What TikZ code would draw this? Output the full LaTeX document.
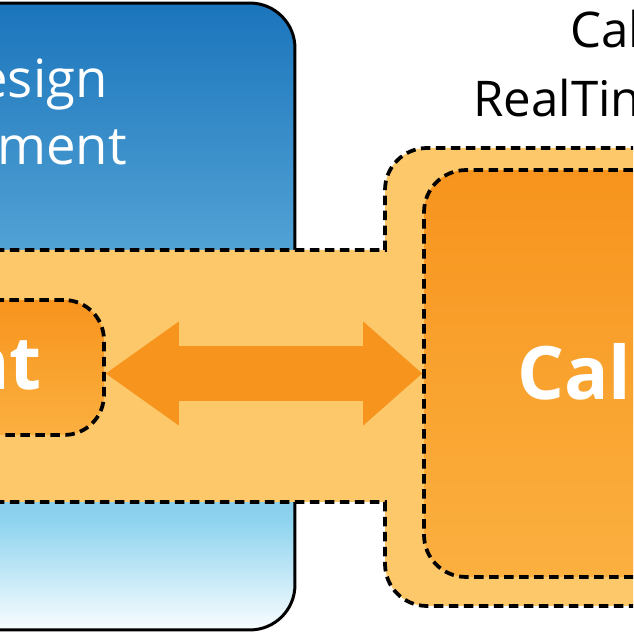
\documentclass[tikz,border=0pt]{standalone}
\usepackage{fontspec}
\setmainfont{Open Sans}
\usetikzlibrary{arrows.meta}
\definecolor{topblue}{HTML}{1B75BC}
\definecolor{skyblue}{HTML}{8DD3EF}
\definecolor{bandorange}{HTML}{FDC86A}
\definecolor{deeporange}{HTML}{F7941D}
\definecolor{paleorange}{HTML}{FBB040}
\pgfdeclareverticalshading{bluefade}{100bp}{color(0bp)=(white); color(25bp)=(white!95!skyblue); color(33.8bp)=(skyblue); color(75bp)=(topblue); color(100bp)=(topblue)}
\tikzset{
  dashedge/.style={draw=black, line width=0.075cm, dash pattern=on 0.19cm off 0.11cm},
  orangebox/.style={dashedge, rounded corners=0.84cm, top color=deeporange, bottom color=paleorange, inner sep=0pt},
  bluebox/.style={draw=black, line width=0.06cm, rounded corners=0.9cm, shade, shading=bluefade, inner sep=0pt},
  boxlabel/.style={white, inner sep=0pt, font=\fontsize{42}{48}\selectfont\bfseries},
  plainlabel/.style={inner sep=0pt, font=\fontsize{30}{36}\selectfont},
}
\begin{document}
\begin{tikzpicture}[x=0.02cm, y=0.02cm]
\useasboundingbox (0,0) rectangle (633,633);
\clip (0,0) rectangle (633,633);

\node[bluebox, minimum width=7.5cm, minimum height=12.54cm] at (107.5,316.5) (design){};
\node[plainlabel, white, anchor=base east] at (108,535) (designtop){esign};
\node[plainlabel, white, anchor=base east] at (127,468) (designbot){ment};

% light band and server block
\fill[bandorange] (-20,131) -- (385,131) -- (385,69) arc[start angle=180, end angle=270, radius=0.84cm] -- (720,27) -- (720,485) -- (427,485) arc[start angle=90, end angle=180, radius=0.84cm] -- (385,383) -- (-20,383) -- cycle;
\draw[dashedge] (-20,383) -- (385,383) -- (385,443) arc[start angle=180, end angle=90, radius=0.84cm] -- (720,485); % upper edge
\draw[dashedge] (-20,131) -- (385,131) -- (385,69) arc[start angle=180, end angle=270, radius=0.84cm] -- (720,27); % lower edge

\node[orangebox, minimum width=5.92cm, minimum height=8.14cm] at (572,259.5) (server){};
\node[orangebox, minimum width=3.68cm, minimum height=2.7cm, rounded corners=0.8cm] at (12,265.5) (client){};
\node[boxlabel, anchor=base west] at (517,233) (servertxt){Cal};
\node[boxlabel, anchor=base east] at (42,243) (clienttxt){nt};

\draw[deeporange, line width=1.1cm, {Triangle[length=1.46cm, width=2.08cm, line width=0pt]}-{Triangle[length=1.18cm, width=2.08cm, line width=0pt]}] (server.west -| client.east) -- (server.west); % two-way link

\node[plainlabel, font=\fontsize{28}{33}\selectfont, anchor=base west] at (570,585) (titletop){Cal};
\node[plainlabel, font=\fontsize{28}{33}\selectfont, anchor=base west] at (473,516) (titlebot){RealTin};
\end{tikzpicture}
\end{document}
